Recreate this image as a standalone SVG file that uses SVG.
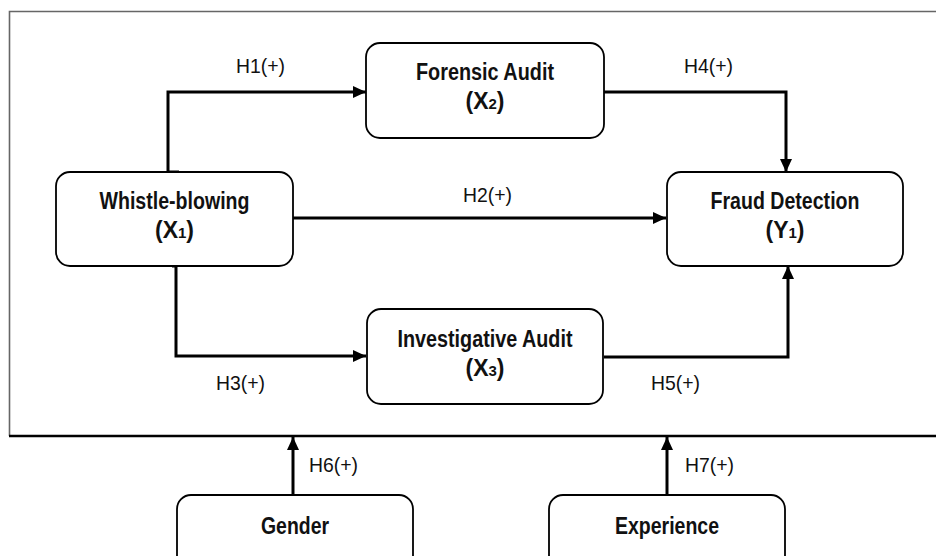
<svg xmlns="http://www.w3.org/2000/svg" width="936" height="556" viewBox="0 0 936 556">
<defs>
<style>
.box{fill:#fff;stroke:#000;stroke-width:1.8}
.t{font-family:"Liberation Sans",Arial,sans-serif;font-weight:bold;font-size:23px;text-anchor:middle;fill:#111}
.s{font-size:15px}
.lbl{font-family:"Liberation Sans",Arial,sans-serif;font-size:21px;fill:#111}
.c{fill:none;stroke:#000;stroke-width:3}
</style>
<marker id="ah" markerUnits="userSpaceOnUse" markerWidth="14" markerHeight="12" refX="13" refY="6" orient="auto">
<path d="M0,0 L13,6 L0,12 z" fill="#000"/>
</marker>
</defs>
<rect width="936" height="556" fill="#fff"/>
<g id="frame">
<path d="M940,11.5 H9.5 V436" fill="none" stroke="#666" stroke-width="1.6"/>
<line x1="9" y1="436" x2="936" y2="436" stroke="#000" stroke-width="2.5"/>
</g>
<g id="connectors">
<path class="c" d="M179,172 H168 V92 H366" marker-end="url(#ah)"/>
<path class="c" d="M293,218 H666" marker-end="url(#ah)"/>
<path class="c" d="M172,266 H176 V356 H366" marker-end="url(#ah)"/>
<path class="c" d="M604,92 H786 V172" marker-end="url(#ah)"/>
<path class="c" d="M604,357 H788 V266" marker-end="url(#ah)"/>
<path class="c" d="M293,495 V437" marker-end="url(#ah)"/>
<path class="c" d="M667,495 V437" marker-end="url(#ah)"/>
<text class="lbl" x="236" y="73" textLength="49" lengthAdjust="spacingAndGlyphs">H1(+)</text>
<text class="lbl" x="684" y="73" textLength="49" lengthAdjust="spacingAndGlyphs">H4(+)</text>
<text class="lbl" x="463" y="202" textLength="49" lengthAdjust="spacingAndGlyphs">H2(+)</text>
<text class="lbl" x="216" y="390" textLength="49" lengthAdjust="spacingAndGlyphs">H3(+)</text>
<text class="lbl" x="651" y="390" textLength="49" lengthAdjust="spacingAndGlyphs">H5(+)</text>
<text class="lbl" x="309" y="472" textLength="49" lengthAdjust="spacingAndGlyphs">H6(+)</text>
<text class="lbl" x="685" y="472" textLength="49" lengthAdjust="spacingAndGlyphs">H7(+)</text>
</g>
<g id="forensic">
<rect class="box" x="366" y="43" width="238" height="95" rx="14"/>
<text class="t" x="485" y="80" textLength="138" lengthAdjust="spacingAndGlyphs">Forensic Audit</text>
<text class="t" x="485" y="109">(X<tspan class="s">2</tspan>)</text>
</g>
<g id="whistle">
<rect class="box" x="56" y="172" width="237" height="94" rx="14"/>
<text class="t" x="174.5" y="209" textLength="150" lengthAdjust="spacingAndGlyphs">Whistle-blowing</text>
<text class="t" x="174.5" y="238">(X<tspan class="s">1</tspan>)</text>
</g>
<g id="fraud">
<rect class="box" x="667" y="172" width="236" height="94" rx="14"/>
<text class="t" x="785" y="209" textLength="149" lengthAdjust="spacingAndGlyphs">Fraud Detection</text>
<text class="t" x="785" y="238">(Y<tspan class="s">1</tspan>)</text>
</g>
<g id="investigative">
<rect class="box" x="367" y="309" width="236" height="95" rx="14"/>
<text class="t" x="485" y="347" textLength="175" lengthAdjust="spacingAndGlyphs">Investigative Audit</text>
<text class="t" x="485" y="376">(X<tspan class="s">3</tspan>)</text>
</g>
<g id="gender">
<rect class="box" x="177" y="495" width="236" height="95" rx="14"/>
<text class="t" x="295" y="534" textLength="68" lengthAdjust="spacingAndGlyphs">Gender</text>
</g>
<g id="experience">
<rect class="box" x="549" y="495" width="236" height="95" rx="14"/>
<text class="t" x="667" y="534" textLength="104" lengthAdjust="spacingAndGlyphs">Experience</text>
</g>
</svg>
